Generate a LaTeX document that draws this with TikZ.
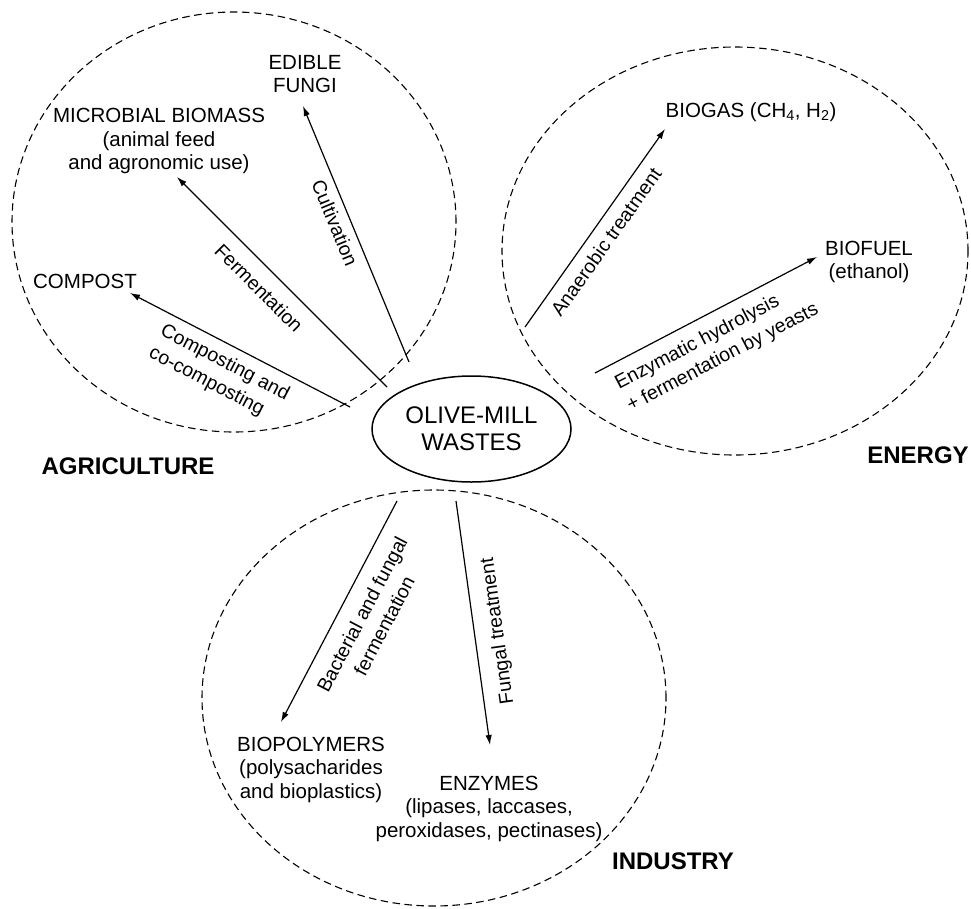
\documentclass[tikz,border=0pt]{standalone}
\usepackage{fontspec}
\setmainfont{Liberation Sans}
\usetikzlibrary{arrows.meta,shapes.geometric}
\begin{document}
\begin{tikzpicture}[x=1pt,y=-1pt,
  zone/.style={draw, ellipse, dash pattern=on 7.5pt off 4.5pt, line width=1.1pt, inner sep=0pt},
  src/.style={draw, ellipse, line width=1.5pt, minimum width=199pt, minimum height=106pt, inner sep=0pt, align=center, font=\fontsize{24}{27}\selectfont},
  lbl/.style={align=center, font=\fontsize{20.5}{23.5}\selectfont, inner sep=0pt},
  elbl/.style={align=center, font=\fontsize{19.5}{25}\selectfont, inner sep=0pt},
  sector/.style={font=\bfseries\fontsize{24}{28}\selectfont, inner sep=0pt},
  arr/.style={-{Latex[length=10pt,width=6.5pt]}, line width=1.2pt},
]
\path[use as bounding box] (0,0) rectangle (971,908);

% zones
\node[zone, minimum width=444pt, minimum height=420pt] (agri) at (234,222) {};
\node[zone, minimum width=466pt, minimum height=408pt] (ener) at (735,251) {};
\node[zone, minimum width=464pt, minimum height=416pt] (indu) at (434,698) {};

% source
\node[src] (omw) at (471.5,429) {OLIVE-MILL\\WASTES};

% products
\node[lbl] (fungi) at (305,74) {EDIBLE\\FUNGI};
\node[lbl] (biomass) at (159,141) {MICROBIAL BIOMASS\\(animal feed\\and agronomic use)};
\node[lbl] (compost) at (85,281) {COMPOST};
\node[lbl, anchor=base] (biogas) at (751,117) {BIOGAS (CH\textsubscript{4}, H\textsubscript{2})};
\node[lbl] (biofuel) at (869,262) {BIOFUEL\\(ethanol)};
\node[lbl] (biopol) at (311,769.5) {BIOPOLYMERS\\(polysacharides\\and bioplastics)};
\node[lbl] (enzymes) at (489,808.5) {ENZYMES\\(lipases, laccases,\\peroxidases, pectinases)};

% sectors
\node[sector] (agtxt) at (128,466) {AGRICULTURE};
\node[sector] (entxt) at (918,455) {ENERGY};
\node[sector] (intxt) at (673,861) {INDUSTRY};

% arrow end points
\coordinate (s1) at (350,407); \coordinate (t1) at (130,293);
\coordinate (s2) at (387,387); \coordinate (t2) at (177,177);
\coordinate (s3) at (409,362); \coordinate (t3) at (303,106);
\coordinate (s4) at (525,327); \coordinate (t4) at (665,129);
\coordinate (s5) at (595,373); \coordinate (t5) at (817,257);
\coordinate (s6) at (397,501); \coordinate (t6) at (281,722);
\coordinate (s7) at (456,501); \coordinate (t7) at (490,745);

\draw[arr] (s1) -- (t1);
\draw[arr] (s2) -- (t2);
\draw[arr] (s3) -- (t3);
\draw[arr] (s4) -- (t4);
\draw[arr] (s5) -- (t5);
\draw[arr] (s6) -- (t6);
\draw[arr] (s7) -- (t7);

% process labels
\node[elbl, align=left, rotate=-27.4] (l1) at (219,374) {Composting and\\co-composting};
\node[elbl, rotate=-45] (l2) at (259,288) {Fermentation};
\node[elbl, rotate=-67.5] (l3) at (335,223) {Cultivation};
\node[elbl, rotate=54.7] (l4) at (606,242) {Anaerobic treatment};
\node[elbl, align=left, rotate=27.6] (l5) at (717,347) {Enzymatic hydrolysis\\+ fermentation by yeasts};
\node[elbl, rotate=62.3] (l6) at (373,620) {Bacterial and fungal\\fermentation};
\node[elbl, rotate=98] (l7) at (498,631) {Fungal treatment};
\end{tikzpicture}
\end{document}
